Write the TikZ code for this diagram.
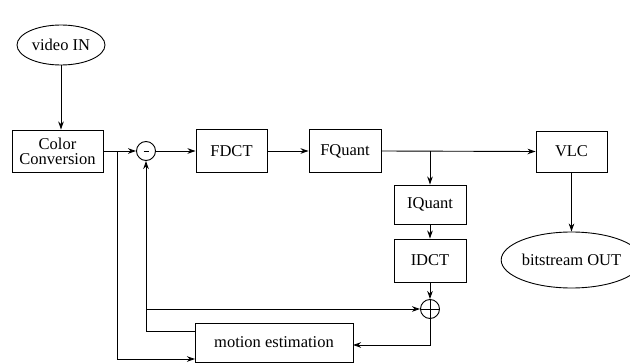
\documentclass[tikz,border=0pt]{standalone}
\usepackage{fontspec}
\setmainfont{Liberation Serif}
\usetikzlibrary{shapes.geometric,arrows.meta,calc}
\begin{document}
\begin{tikzpicture}[x=1pt,y=-1pt,
  every node/.style={font=\fontsize{16.5}{15}\selectfont},
  blk/.style={draw,line width=0.9pt,rectangle,inner sep=0pt,align=center},
  oval/.style={draw,line width=0.9pt,ellipse,inner sep=0pt},
  junc/.style={draw,line width=0.9pt,circle,minimum size=19pt,inner sep=0pt},
  conn/.style={line width=0.9pt,-{Stealth[length=8pt,width=5.5pt,inset=2.5pt]}}]
\useasboundingbox (0,0) rectangle (630,364);
\node[oval,minimum width=88pt,minimum height=40pt] (vin) at (61,45) {video IN};
\node[blk,minimum width=91pt,minimum height=42pt] (cc) at (57.5,151) {Color\\Conversion};
\node[junc] (minus) at (146,151) {};
\draw[line width=1.2pt] ($(minus.center)+(-2.5,0.5)$) -- ($(minus.center)+(2.5,0.5)$);
\node[blk,minimum width=71pt,minimum height=43pt] (fdct) at (231.5,151) {FDCT};
\node[blk,minimum width=72pt,minimum height=43pt] (fq) at (345,151) {FQuant};
\node[blk,minimum width=71pt,minimum height=41pt] (vlc) at (571.5,151.5) {VLC};
\node[blk,minimum width=72pt,minimum height=39pt] (iq) at (430,204.5) {IQuant};
\node[blk,minimum width=72pt,minimum height=43pt] (idct) at (430,260.5) {IDCT};
\node[junc] (plus) at (430,309) {};
\draw[line width=0.9pt] (plus.north) -- (plus.south) (plus.west) -- (plus.east);
\node[oval,minimum width=114pt,minimum height=56pt] (bout) at (571.5,260) {bitstream OUT};
\node[blk,minimum width=158pt,minimum height=39pt] (me) at (274,342.5) {motion estimation};
\coordinate (b1) at (117,151);
\coordinate (b2) at (430,151);
\coordinate (b3) at (146,309);
\coordinate (meIn) at (195,359);
\coordinate (meOut) at (195,331);
\coordinate (meR) at (353,345);
\draw[conn] (vin.south) -- (vin.south |- cc.north);
\draw[conn] (cc.east) -- (minus.west);
\draw[conn] (minus.east) -- (fdct.west);
\draw[conn] (fdct.east) -- (fq.west);
\draw[conn] (fq.east) -- (vlc.west);
\draw[conn] (b2) -- (iq.north);
\draw[conn] (iq.south) -- (idct.north);
\draw[conn] (idct.south) -- (plus.north);
\draw[conn] (vlc.south) -- (bout.north);
\draw[conn] (b1) |- (meIn);
\draw[conn] (meOut) -| (minus.south);
\draw[conn] (b3) -- (plus.west);
\draw[conn] (plus.south) |- (meR);
\end{tikzpicture}
\end{document}
